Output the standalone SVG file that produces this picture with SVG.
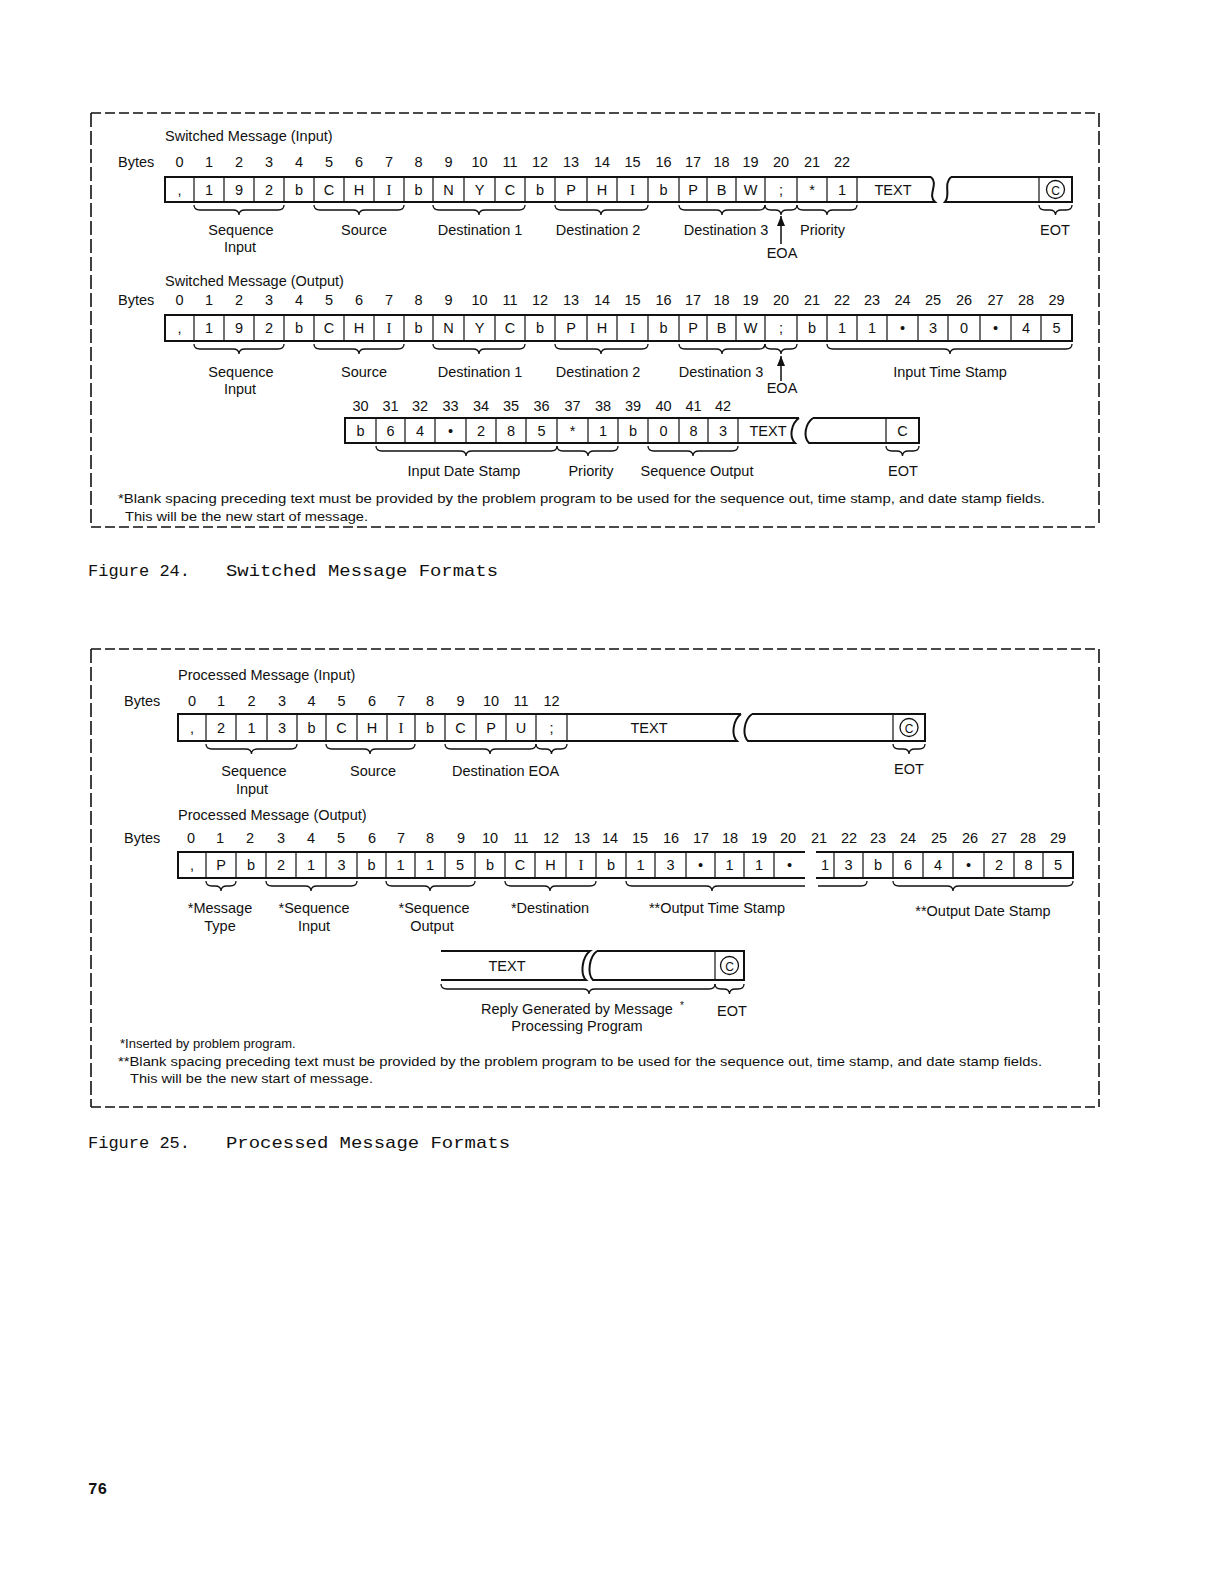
<svg xmlns="http://www.w3.org/2000/svg" width="1224" height="1584" viewBox="0 0 1224 1584">
<defs>
<style>
text{font-family:"Liberation Sans",Arial,sans-serif;font-size:14.5px;fill:#111}
.m{text-anchor:middle}
.s{font-size:13px}
.sr{font-family:"Liberation Serif","Times New Roman",serif;font-size:15px}
.cap{font-family:"Liberation Mono","Courier New",monospace;font-size:17px}
.box{fill:none;stroke:#111;stroke-width:2}
.dv{stroke:#111;stroke-width:1.2}
.br{fill:none;stroke:#111;stroke-width:1.3}
.fh{stroke:#111;stroke-width:1.6;stroke-dasharray:10 4}
.fv{stroke:#111;stroke-width:1.6;stroke-dasharray:14 4}
.circ{fill:none;stroke:#111;stroke-width:1.3}
</style>
<marker id="up" viewBox="0 0 10 8" refX="10" refY="4" markerWidth="10" markerHeight="8" orient="auto" markerUnits="userSpaceOnUse">
<path d="M0,0 L10,4 L0,8 Z" fill="#111"/>
</marker>
</defs>
<rect width="1224" height="1584" fill="#fff"/>

<!-- Figure 24 frame -->
<g id="frame24">
<line x1="91" y1="113" x2="1099" y2="113" class="fh"/>
<line x1="91" y1="113" x2="91" y2="527" class="fv"/>
<line x1="1099" y1="113" x2="1099" y2="527" class="fv"/>
<line x1="91" y1="527" x2="1099" y2="527" class="fh"/>
</g>

<!-- F24 Row 1 -->
<g id="f24-input">
<text x="165" y="141">Switched Message (Input)</text>
<text x="118" y="167">Bytes</text>
<g class="m">
<text x="179.5" y="167">0</text><text x="209" y="167">1</text><text x="239" y="167">2</text><text x="269" y="167">3</text><text x="299" y="167">4</text><text x="329" y="167">5</text><text x="359" y="167">6</text><text x="389" y="167">7</text><text x="418.5" y="167">8</text><text x="448.5" y="167">9</text><text x="479.5" y="167">10</text><text x="510" y="167">11</text><text x="540" y="167">12</text><text x="571" y="167">13</text><text x="602" y="167">14</text><text x="632.5" y="167">15</text><text x="663.5" y="167">16</text><text x="693" y="167">17</text><text x="721.5" y="167">18</text><text x="750.5" y="167">19</text><text x="781" y="167">20</text><text x="812" y="167">21</text><text x="842" y="167">22</text>
</g>
<path class="box" d="M931,177 H165 V202 H935 C927,195 939,184 931,177"/>
<path class="box" d="M951,177 H1072 V202 H945 C951,195 943,184 951,177"/>
<g class="dv">
<line x1="194" y1="177" x2="194" y2="202"/><line x1="224" y1="177" x2="224" y2="202"/><line x1="254" y1="177" x2="254" y2="202"/><line x1="284" y1="177" x2="284" y2="202"/><line x1="314" y1="177" x2="314" y2="202"/><line x1="344" y1="177" x2="344" y2="202"/><line x1="374" y1="177" x2="374" y2="202"/><line x1="404" y1="177" x2="404" y2="202"/><line x1="433" y1="177" x2="433" y2="202"/><line x1="464" y1="177" x2="464" y2="202"/><line x1="495" y1="177" x2="495" y2="202"/><line x1="525" y1="177" x2="525" y2="202"/><line x1="555" y1="177" x2="555" y2="202"/><line x1="587" y1="177" x2="587" y2="202"/><line x1="617" y1="177" x2="617" y2="202"/><line x1="648" y1="177" x2="648" y2="202"/><line x1="679" y1="177" x2="679" y2="202"/><line x1="707" y1="177" x2="707" y2="202"/><line x1="736" y1="177" x2="736" y2="202"/><line x1="765" y1="177" x2="765" y2="202"/><line x1="797" y1="177" x2="797" y2="202"/><line x1="827" y1="177" x2="827" y2="202"/><line x1="857" y1="177" x2="857" y2="202"/><line x1="1039" y1="177" x2="1039" y2="202"/>
</g>
<g class="m">
<text x="179.5" y="195">,</text><text x="209" y="195">1</text><text x="239" y="195">9</text><text x="269" y="195">2</text><text x="299" y="195">b</text><text x="329" y="195">C</text><text x="359" y="195">H</text><text x="389" y="195" class="sr">I</text><text x="418.5" y="195">b</text><text x="448.5" y="195">N</text><text x="479.5" y="195">Y</text><text x="510" y="195">C</text><text x="540" y="195">b</text><text x="571" y="195">P</text><text x="602" y="195">H</text><text x="632.5" y="195" class="sr">I</text><text x="663.5" y="195">b</text><text x="693" y="195">P</text><text x="721.5" y="195">B</text><text x="750.5" y="195">W</text><text x="781" y="195">;</text><text x="812" y="195">*</text><text x="842" y="195">1</text>
<text x="893" y="195">TEXT</text>
<text x="1055.5" y="194.5" style="font-size:12px">C</text>
</g>
<circle class="circ" cx="1055.5" cy="189.5" r="9"/>
<g class="m">
<text x="241" y="235">Sequence</text><text x="240" y="252">Input</text>
<text x="364" y="235">Source</text>
<text x="480" y="235">Destination 1</text>
<text x="598" y="235">Destination 2</text>
<text x="726" y="235">Destination 3</text>
<text x="782" y="258">EOA</text>
<text x="1055" y="235">EOT</text>
</g>
<text x="800" y="235">Priority</text>
</g>

<!-- F24 Row 2 -->
<g id="f24-output">
<text x="165" y="286">Switched Message (Output)</text>
<text x="118" y="305">Bytes</text>
<g class="m">
<text x="179.5" y="305">0</text><text x="209" y="305">1</text><text x="239" y="305">2</text><text x="269" y="305">3</text><text x="299" y="305">4</text><text x="329" y="305">5</text><text x="359" y="305">6</text><text x="389" y="305">7</text><text x="418.5" y="305">8</text><text x="448.5" y="305">9</text><text x="479.5" y="305">10</text><text x="510" y="305">11</text><text x="540" y="305">12</text><text x="571" y="305">13</text><text x="602" y="305">14</text><text x="632.5" y="305">15</text><text x="663.5" y="305">16</text><text x="693" y="305">17</text><text x="721.5" y="305">18</text><text x="750.5" y="305">19</text><text x="781" y="305">20</text><text x="812" y="305">21</text><text x="842" y="305">22</text><text x="872" y="305">23</text><text x="902.5" y="305">24</text><text x="933" y="305">25</text><text x="964" y="305">26</text><text x="995.5" y="305">27</text><text x="1026" y="305">28</text><text x="1056.5" y="305">29</text>
</g>
<rect class="box" x="165" y="315" width="907" height="26"/>
<g class="dv">
<line x1="194" y1="315" x2="194" y2="341"/><line x1="224" y1="315" x2="224" y2="341"/><line x1="254" y1="315" x2="254" y2="341"/><line x1="284" y1="315" x2="284" y2="341"/><line x1="314" y1="315" x2="314" y2="341"/><line x1="344" y1="315" x2="344" y2="341"/><line x1="374" y1="315" x2="374" y2="341"/><line x1="404" y1="315" x2="404" y2="341"/><line x1="433" y1="315" x2="433" y2="341"/><line x1="464" y1="315" x2="464" y2="341"/><line x1="495" y1="315" x2="495" y2="341"/><line x1="525" y1="315" x2="525" y2="341"/><line x1="555" y1="315" x2="555" y2="341"/><line x1="587" y1="315" x2="587" y2="341"/><line x1="617" y1="315" x2="617" y2="341"/><line x1="648" y1="315" x2="648" y2="341"/><line x1="679" y1="315" x2="679" y2="341"/><line x1="707" y1="315" x2="707" y2="341"/><line x1="736" y1="315" x2="736" y2="341"/><line x1="765" y1="315" x2="765" y2="341"/><line x1="797" y1="315" x2="797" y2="341"/><line x1="827" y1="315" x2="827" y2="341"/><line x1="857" y1="315" x2="857" y2="341"/><line x1="887" y1="315" x2="887" y2="341"/><line x1="918" y1="315" x2="918" y2="341"/><line x1="948" y1="315" x2="948" y2="341"/><line x1="980" y1="315" x2="980" y2="341"/><line x1="1011" y1="315" x2="1011" y2="341"/><line x1="1041" y1="315" x2="1041" y2="341"/>
</g>
<g class="m">
<text x="179.5" y="333">,</text><text x="209" y="333">1</text><text x="239" y="333">9</text><text x="269" y="333">2</text><text x="299" y="333">b</text><text x="329" y="333">C</text><text x="359" y="333">H</text><text x="389" y="333" class="sr">I</text><text x="418.5" y="333">b</text><text x="448.5" y="333">N</text><text x="479.5" y="333">Y</text><text x="510" y="333">C</text><text x="540" y="333">b</text><text x="571" y="333">P</text><text x="602" y="333">H</text><text x="632.5" y="333" class="sr">I</text><text x="663.5" y="333">b</text><text x="693" y="333">P</text><text x="721.5" y="333">B</text><text x="750.5" y="333">W</text><text x="781" y="333">;</text><text x="812" y="333">b</text><text x="842" y="333">1</text><text x="872" y="333">1</text><text x="902.5" y="333">•</text><text x="933" y="333">3</text><text x="964" y="333">0</text><text x="995.5" y="333">•</text><text x="1026" y="333">4</text><text x="1056.5" y="333">5</text>
</g>
<g class="m">
<text x="241" y="377">Sequence</text><text x="240" y="394">Input</text>
<text x="364" y="377">Source</text>
<text x="480" y="377">Destination 1</text>
<text x="598" y="377">Destination 2</text>
<text x="721" y="377">Destination 3</text>
<text x="782" y="393">EOA</text>
<text x="950" y="377">Input Time Stamp</text>
</g>
</g>

<!-- F24 Row 3 -->
<g id="f24-output-cont">
<g class="m">
<text x="360.5" y="411">30</text><text x="390.5" y="411">31</text><text x="420" y="411">32</text><text x="450.5" y="411">33</text><text x="481" y="411">34</text><text x="511" y="411">35</text><text x="541.5" y="411">36</text><text x="572.5" y="411">37</text><text x="603" y="411">38</text><text x="633" y="411">39</text><text x="663.5" y="411">40</text><text x="693.5" y="411">41</text><text x="723" y="411">42</text>
</g>
<path class="box" d="M799,418 H345 V443 H795 C789,437 791,424 799,418"/>
<path class="box" d="M813,418 H919 V443 H809 C803,437 805,424 813,418"/>
<g class="dv">
<line x1="376" y1="418" x2="376" y2="443"/><line x1="405" y1="418" x2="405" y2="443"/><line x1="435" y1="418" x2="435" y2="443"/><line x1="466" y1="418" x2="466" y2="443"/><line x1="496" y1="418" x2="496" y2="443"/><line x1="526" y1="418" x2="526" y2="443"/><line x1="557" y1="418" x2="557" y2="443"/><line x1="588" y1="418" x2="588" y2="443"/><line x1="618" y1="418" x2="618" y2="443"/><line x1="648" y1="418" x2="648" y2="443"/><line x1="679" y1="418" x2="679" y2="443"/><line x1="708" y1="418" x2="708" y2="443"/><line x1="738" y1="418" x2="738" y2="443"/><line x1="886" y1="418" x2="886" y2="443"/>
</g>
<g class="m">
<text x="360.5" y="436">b</text><text x="390.5" y="436">6</text><text x="420" y="436">4</text><text x="450.5" y="436">•</text><text x="481" y="436">2</text><text x="511" y="436">8</text><text x="541.5" y="436">5</text><text x="572.5" y="436">*</text><text x="603" y="436">1</text><text x="633" y="436">b</text><text x="663.5" y="436">0</text><text x="693.5" y="436">8</text><text x="723" y="436">3</text>
<text x="768" y="436">TEXT</text>
<text x="902.5" y="436">C</text>
</g>
<g class="m">
<text x="464" y="476">Input Date Stamp</text>
<text x="591" y="476">Priority</text>
<text x="697" y="476">Sequence Output</text>
<text x="903" y="476">EOT</text>
</g>
</g>

<g id="f24-notes">
<text x="118" y="503" class="s" textLength="927" lengthAdjust="spacingAndGlyphs">*Blank spacing preceding text must be provided by the problem program to be used for the sequence out, time stamp, and date stamp fields.</text>
<text x="125" y="521" class="s" textLength="243" lengthAdjust="spacingAndGlyphs">This will be the new start of message.</text>
</g>
<g id="caption24">
<text x="88" y="576" class="cap" textLength="102" lengthAdjust="spacingAndGlyphs">Figure 24.</text>
<text x="226" y="576" class="cap" textLength="272" lengthAdjust="spacingAndGlyphs">Switched Message Formats</text>
</g>

<!-- Figure 25 frame -->
<g id="frame25">
<line x1="91" y1="649" x2="1099" y2="649" class="fh"/>
<line x1="91" y1="649" x2="91" y2="1107" class="fv"/>
<line x1="1099" y1="649" x2="1099" y2="1107" class="fv"/>
<line x1="91" y1="1107" x2="1099" y2="1107" class="fh"/>
</g>

<!-- F25 Row 1 -->
<g id="f25-input">
<text x="178" y="680">Processed Message (Input)</text>
<text x="124" y="706">Bytes</text>
<g class="m">
<text x="192" y="706">0</text><text x="221" y="706">1</text><text x="251.5" y="706">2</text><text x="282" y="706">3</text><text x="311.5" y="706">4</text><text x="341.5" y="706">5</text><text x="372" y="706">6</text><text x="401" y="706">7</text><text x="430" y="706">8</text><text x="460.5" y="706">9</text><text x="491" y="706">10</text><text x="521" y="706">11</text><text x="551.5" y="706">12</text>
</g>
<path class="box" d="M741,714 H178 V741 H737 C731,735 733,720 741,714"/>
<path class="box" d="M752,714 H925 V741 H748 C742,735 744,720 752,714"/>
<g class="dv">
<line x1="206" y1="714" x2="206" y2="741"/><line x1="236" y1="714" x2="236" y2="741"/><line x1="267" y1="714" x2="267" y2="741"/><line x1="297" y1="714" x2="297" y2="741"/><line x1="326" y1="714" x2="326" y2="741"/><line x1="357" y1="714" x2="357" y2="741"/><line x1="387" y1="714" x2="387" y2="741"/><line x1="415" y1="714" x2="415" y2="741"/><line x1="445" y1="714" x2="445" y2="741"/><line x1="476" y1="714" x2="476" y2="741"/><line x1="506" y1="714" x2="506" y2="741"/><line x1="536" y1="714" x2="536" y2="741"/><line x1="567" y1="714" x2="567" y2="741"/><line x1="893" y1="714" x2="893" y2="741"/>
</g>
<g class="m">
<text x="192" y="733">,</text><text x="221" y="733">2</text><text x="251.5" y="733">1</text><text x="282" y="733">3</text><text x="311.5" y="733">b</text><text x="341.5" y="733">C</text><text x="372" y="733">H</text><text x="401" y="733" class="sr">I</text><text x="430" y="733">b</text><text x="460.5" y="733">C</text><text x="491" y="733">P</text><text x="521" y="733">U</text><text x="551.5" y="733">;</text>
<text x="649" y="733">TEXT</text>
<text x="909" y="732.5" style="font-size:12px">C</text>
</g>
<circle class="circ" cx="909" cy="727.5" r="9"/>
<g class="m">
<text x="254" y="776">Sequence</text><text x="252" y="794">Input</text>
<text x="373" y="776">Source</text>
<text x="909" y="774">EOT</text>
</g>
<text x="452" y="776">Destination EOA</text>
</g>

<!-- F25 Row 2 -->
<g id="f25-output">
<text x="178" y="820">Processed Message (Output)</text>
<text x="124" y="843">Bytes</text>
<g class="m">
<text x="191" y="843">0</text><text x="220" y="843">1</text><text x="250" y="843">2</text><text x="281" y="843">3</text><text x="311" y="843">4</text><text x="341" y="843">5</text><text x="372" y="843">6</text><text x="401" y="843">7</text><text x="430" y="843">8</text><text x="461" y="843">9</text><text x="490" y="843">10</text><text x="521" y="843">11</text><text x="551" y="843">12</text><text x="582" y="843">13</text><text x="610" y="843">14</text><text x="640" y="843">15</text><text x="671" y="843">16</text><text x="701" y="843">17</text><text x="730" y="843">18</text><text x="759" y="843">19</text><text x="788" y="843">20</text><text x="819" y="843">21</text><text x="849" y="843">22</text><text x="878" y="843">23</text><text x="908" y="843">24</text><text x="939" y="843">25</text><text x="970" y="843">26</text><text x="999" y="843">27</text><text x="1028" y="843">28</text><text x="1058" y="843">29</text>
</g>
<path class="box" d="M805,852 H178 V878 H805"/>
<path class="box" d="M816,852 H1073 V878 H816"/>
<g class="dv">
<line x1="206" y1="852" x2="206" y2="878"/><line x1="236" y1="852" x2="236" y2="878"/><line x1="266" y1="852" x2="266" y2="878"/><line x1="296" y1="852" x2="296" y2="878"/><line x1="326" y1="852" x2="326" y2="878"/><line x1="357" y1="852" x2="357" y2="878"/><line x1="386" y1="852" x2="386" y2="878"/><line x1="415" y1="852" x2="415" y2="878"/><line x1="445" y1="852" x2="445" y2="878"/><line x1="475" y1="852" x2="475" y2="878"/><line x1="505" y1="852" x2="505" y2="878"/><line x1="535" y1="852" x2="535" y2="878"/><line x1="566" y1="852" x2="566" y2="878"/><line x1="596" y1="852" x2="596" y2="878"/><line x1="626" y1="852" x2="626" y2="878"/><line x1="655" y1="852" x2="655" y2="878"/><line x1="686" y1="852" x2="686" y2="878"/><line x1="715" y1="852" x2="715" y2="878"/><line x1="744" y1="852" x2="744" y2="878"/><line x1="774" y1="852" x2="774" y2="878"/>
<line x1="834" y1="852" x2="834" y2="878"/><line x1="863" y1="852" x2="863" y2="878"/><line x1="893" y1="852" x2="893" y2="878"/><line x1="923" y1="852" x2="923" y2="878"/><line x1="953" y1="852" x2="953" y2="878"/><line x1="984" y1="852" x2="984" y2="878"/><line x1="1014" y1="852" x2="1014" y2="878"/><line x1="1043" y1="852" x2="1043" y2="878"/>
</g>
<g class="m">
<text x="192" y="870">,</text><text x="221" y="870">P</text><text x="251" y="870">b</text><text x="281" y="870">2</text><text x="311" y="870">1</text><text x="341.5" y="870">3</text><text x="371.5" y="870">b</text><text x="400.5" y="870">1</text><text x="430" y="870">1</text><text x="460" y="870">5</text><text x="490" y="870">b</text><text x="520" y="870">C</text><text x="550.5" y="870">H</text><text x="581" y="870" class="sr">I</text><text x="611" y="870">b</text><text x="640.5" y="870">1</text><text x="670.5" y="870">3</text><text x="700.5" y="870">•</text><text x="729.5" y="870">1</text><text x="759" y="870">1</text><text x="789.5" y="870">•</text>
<text x="825" y="870">1</text><text x="848.5" y="870">3</text><text x="878" y="870">b</text><text x="908" y="870">6</text><text x="938" y="870">4</text><text x="968.5" y="870">•</text><text x="999" y="870">2</text><text x="1028.5" y="870">8</text><text x="1058" y="870">5</text>
</g>
<g class="m">
<text x="220" y="913">*Message</text><text x="220" y="931">Type</text>
<text x="314" y="913">*Sequence</text><text x="314" y="931">Input</text>
<text x="434" y="913">*Sequence</text><text x="432" y="931">Output</text>
<text x="550" y="913">*Destination</text>
<text x="717" y="913">**Output Time Stamp</text>
<text x="983" y="916">**Output Date Stamp</text>
</g>
</g>

<!-- F25 reply row -->
<g id="f25-reply">
<path class="box" d="M441,951 H590 C582,957 580,974 586,980 H441"/>
<path class="box" d="M597,951 H744 V980 H593 C587,974 589,957 597,951"/>
<line class="dv" x1="715" y1="951" x2="715" y2="980"/>
<text x="507" y="971" class="m">TEXT</text>
<circle class="circ" cx="729.5" cy="965.5" r="9"/>
<text x="729.5" y="970.5" class="m" style="font-size:12px">C</text>
<text x="481" y="1014">Reply Generated by Message</text>
<text x="680" y="1009" style="font-size:10px">*</text>
<text x="577" y="1031" class="m">Processing Program</text>
<text x="732" y="1016" class="m">EOT</text>
</g>

<g id="f25-notes">
<text x="120" y="1048" class="s">*Inserted by problem program.</text>
<text x="118" y="1066" class="s" textLength="924" lengthAdjust="spacingAndGlyphs">**Blank spacing preceding text must be provided by the problem program to be used for the sequence out, time stamp, and date stamp fields.</text>
<text x="130" y="1083" class="s" textLength="243" lengthAdjust="spacingAndGlyphs">This will be the new start of message.</text>
</g>
<g id="caption25">
<text x="88" y="1148" class="cap" textLength="102" lengthAdjust="spacingAndGlyphs">Figure 25.</text>
<text x="226" y="1148" class="cap" textLength="284" lengthAdjust="spacingAndGlyphs">Processed Message Formats</text>
</g>
<text x="88" y="1494" class="cap" style="font-weight:bold;font-size:16px">76</text>

<!-- connectors: braces and arrows -->
<g id="connectors">
<g class="br">
<path d="M194,205 q0,5 6,5 H233 q6,0 6,5 q0,-5 6,-5 H278 q6,0 6,-5"/>
<path d="M314,205 q0,5 6,5 H353 q6,0 6,5 q0,-5 6,-5 H398 q6,0 6,-5"/>
<path d="M433,205 q0,5 6,5 H473 q6,0 6,5 q0,-5 6,-5 H519 q6,0 6,-5"/>
<path d="M555,205 q0,5 6,5 H595 q6,0 6,5 q0,-5 6,-5 H642 q6,0 6,-5"/>
<path d="M679,205 q0,5 6,5 H716 q6,0 6,5 q0,-5 6,-5 H759 q6,0 6,-5"/>
<path d="M765,205 q0,5 6,5 H775 q6,0 6,5 q0,-5 6,-5 H791 q6,0 6,-5"/>
<path d="M797,205 q0,5 6,5 H821 q6,0 6,5 q0,-5 6,-5 H851 q6,0 6,-5"/>
<path d="M1039,205 q0,5 6,5 H1049.5 q6,0 6,5 q0,-5 6,-5 H1066 q6,0 6,-5"/>

<path d="M194,344 q0,5 6,5 H233 q6,0 6,5 q0,-5 6,-5 H278 q6,0 6,-5"/>
<path d="M314,344 q0,5 6,5 H353 q6,0 6,5 q0,-5 6,-5 H398 q6,0 6,-5"/>
<path d="M433,344 q0,5 6,5 H473 q6,0 6,5 q0,-5 6,-5 H519 q6,0 6,-5"/>
<path d="M555,344 q0,5 6,5 H595 q6,0 6,5 q0,-5 6,-5 H642 q6,0 6,-5"/>
<path d="M679,344 q0,5 6,5 H716 q6,0 6,5 q0,-5 6,-5 H759 q6,0 6,-5"/>
<path d="M765,344 q0,5 6,5 H775 q6,0 6,5 q0,-5 6,-5 H791 q6,0 6,-5"/>
<path d="M827,344 q0,5 6,5 H944 q6,0 6,5 q0,-5 6,-5 H1066 q6,0 6,-5"/>

<path d="M376,446 q0,5 6,5 H460 q6,0 6,5 q0,-5 6,-5 H551 q6,0 6,-5"/>
<path d="M557,446 q0,5 6,5 H582 q6,0 6,5 q0,-5 6,-5 H612 q6,0 6,-5"/>
<path d="M648,446 q0,5 6,5 H687 q6,0 6,5 q0,-5 6,-5 H732 q6,0 6,-5"/>
<path d="M886,446 q0,5 6,5 H896.5 q6,0 6,5 q0,-5 6,-5 H913 q6,0 6,-5"/>

<path d="M206,744 q0,5 6,5 H245.5 q6,0 6,5 q0,-5 6,-5 H291 q6,0 6,-5"/>
<path d="M326,744 q0,5 6,5 H364 q6,0 6,5 q0,-5 6,-5 H409 q6,0 6,-5"/>
<path d="M445,744 q0,5 6,5 H484 q6,0 6,5 q0,-5 6,-5 H530 q6,0 6,-5"/>
<path d="M536,744 q0,5 6,5 H545.5 q6,0 6,5 q0,-5 6,-5 H561 q6,0 6,-5"/>
<path d="M893,744 q0,5 6,5 H903 q6,0 6,5 q0,-5 6,-5 H919 q6,0 6,-5"/>

<path d="M206,881 q0,5 6,5 H215 q6,0 6,5 q0,-5 6,-5 H230 q6,0 6,-5"/>
<path d="M266,881 q0,5 6,5 H305 q6,0 6,5 q0,-5 6,-5 H351 q6,0 6,-5"/>
<path d="M386,881 q0,5 6,5 H424 q6,0 6,5 q0,-5 6,-5 H469 q6,0 6,-5"/>
<path d="M505,881 q0,5 6,5 H544 q6,0 6,5 q0,-5 6,-5 H590 q6,0 6,-5"/>
<path d="M626,881 q0,5 6,5 H706 q6,0 6,5 q0,-5 6,-5 H805"/>
<path d="M818,886 H861 q6,0 6,-5"/>
<path d="M893,881 q0,5 6,5 H947 q6,0 6,5 q0,-5 6,-5 H1067 q6,0 6,-5"/>

<path d="M441,984 q0,5 6,5 H583 q6,0 6,5 q0,-5 6,-5 H709 q6,0 6,-5"/>
<path d="M715,984 q0,5 6,5 H723.5 q6,0 6,5 q0,-5 6,-5 H738 q6,0 6,-5"/>
</g>
<line x1="781" y1="244" x2="781" y2="216" stroke="#111" stroke-width="1.5" marker-end="url(#up)"/>
<line x1="781" y1="381" x2="781" y2="356" stroke="#111" stroke-width="1.5" marker-end="url(#up)"/>
</g>
</svg>
